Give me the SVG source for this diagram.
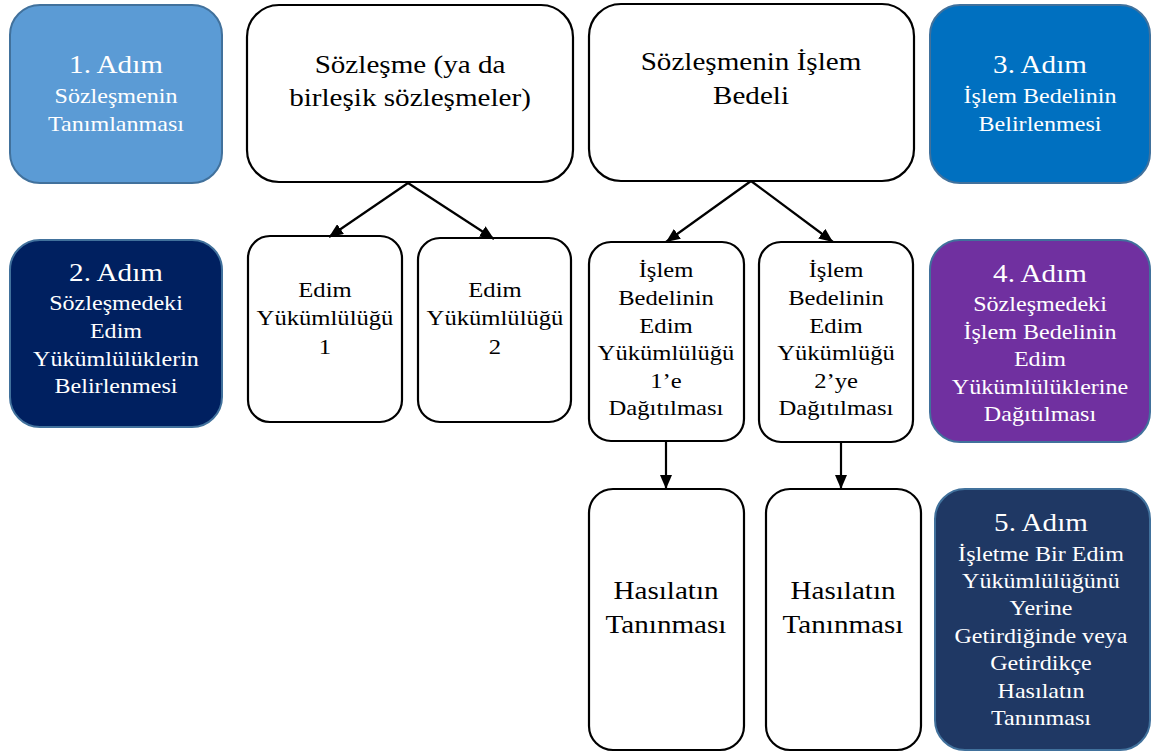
<svg xmlns="http://www.w3.org/2000/svg" width="1152" height="756" viewBox="0 0 1152 756">
<defs>
<marker id="ah" viewBox="0 0 14 12" refX="14" refY="6" markerWidth="14" markerHeight="12" markerUnits="userSpaceOnUse" orient="auto">
<path d="M0,0 L14,6 L0,12 z" fill="#000"/>
</marker>
</defs>
<style>
text{font-family:"Liberation Serif","Times New Roman",serif;text-anchor:middle;}
.w{fill:#fff;stroke:#000;stroke-width:2.2;}
.step{stroke:#41719c;stroke-width:2;}
.h{font-size:26px;fill:#fff;}
.s{font-size:21.5px;fill:#fff;}
.b{font-size:26px;fill:#000;}
.m{font-size:22px;fill:#000;}
.c{stroke:#000;stroke-width:2.2;fill:none;marker-end:url(#ah);}
</style>
<rect width="1152" height="756" fill="#fff"/>

<g id="step1">
<rect class="step" x="10" y="5" width="212" height="178" rx="30" fill="#5b9bd5"/>
<g transform="translate(116 0) scale(1.12 1)">
<text class="h" x="0" y="73">1. Adım</text>
<text class="s" x="0" y="103">Sözleşmenin</text>
<text class="s" x="0" y="131">Tanımlanması</text>
</g>
</g>

<g id="contract">
<rect class="w" x="247" y="5" width="326" height="177" rx="32"/>
<g transform="translate(410 0) scale(1.12 1)">
<text class="b" x="0" y="73">Sözleşme (ya da</text>
<text class="b" x="0" y="106">birleşik sözleşmeler)</text>
</g>
</g>

<g id="price">
<rect class="w" x="589" y="4" width="325" height="177" rx="32"/>
<g transform="translate(751 0) scale(1.12 1)">
<text class="b" x="0" y="70">Sözleşmenin İşlem</text>
<text class="b" x="0" y="104">Bedeli</text>
</g>
</g>

<g id="step3">
<rect class="step" x="930" y="5" width="220" height="178" rx="30" fill="#0070c0"/>
<g transform="translate(1040 0) scale(1.12 1)">
<text class="h" x="0" y="73">3. Adım</text>
<text class="s" x="0" y="103">İşlem Bedelinin</text>
<text class="s" x="0" y="131">Belirlenmesi</text>
</g>
</g>

<g id="step2">
<rect class="step" x="10" y="240" width="212" height="187" rx="30" fill="#002060"/>
<g transform="translate(116 0) scale(1.12 1)">
<text class="h" x="0" y="281">2. Adım</text>
<text class="s" x="0" y="310">Sözleşmedeki</text>
<text class="s" x="0" y="338">Edim</text>
<text class="s" x="0" y="366">Yükümlülüklerin</text>
<text class="s" x="0" y="393">Belirlenmesi</text>
</g>
</g>

<g id="po1">
<rect class="w" x="248" y="236" width="154" height="186" rx="22"/>
<g transform="translate(325 0) scale(1.12 1)">
<text class="m" x="0" y="297">Edim</text>
<text class="m" x="0" y="325">Yükümlülüğü</text>
<text class="m" x="0" y="354">1</text>
</g>
</g>

<g id="po2">
<rect class="w" x="418" y="238" width="153" height="184" rx="22"/>
<g transform="translate(495 0) scale(1.12 1)">
<text class="m" x="0" y="297">Edim</text>
<text class="m" x="0" y="325">Yükümlülüğü</text>
<text class="m" x="0" y="354">2</text>
</g>
</g>

<g id="alloc1">
<rect class="w" x="589" y="242" width="155" height="199" rx="22"/>
<g transform="translate(666 0) scale(1.12 1)">
<text class="m" x="0" y="277">İşlem</text>
<text class="m" x="0" y="305">Bedelinin</text>
<text class="m" x="0" y="333">Edim</text>
<text class="m" x="0" y="360">Yükümlülüğü</text>
<text class="m" x="0" y="388">1’e</text>
<text class="m" x="0" y="415">Dağıtılması</text>
</g>
</g>

<g id="alloc2">
<rect class="w" x="759" y="242" width="154" height="200" rx="22"/>
<g transform="translate(836 0) scale(1.12 1)">
<text class="m" x="0" y="277">İşlem</text>
<text class="m" x="0" y="305">Bedelinin</text>
<text class="m" x="0" y="333">Edim</text>
<text class="m" x="0" y="360">Yükümlüğü</text>
<text class="m" x="0" y="388">2’ye</text>
<text class="m" x="0" y="415">Dağıtılması</text>
</g>
</g>

<g id="step4">
<rect class="step" x="930" y="240" width="220" height="202" rx="30" fill="#7030a0"/>
<g transform="translate(1040 0) scale(1.12 1)">
<text class="h" x="0" y="282">4. Adım</text>
<text class="s" x="0" y="311">Sözleşmedeki</text>
<text class="s" x="0" y="339">İşlem Bedelinin</text>
<text class="s" x="0" y="366">Edim</text>
<text class="s" x="0" y="394">Yükümlülüklerine</text>
<text class="s" x="0" y="421">Dağıtılması</text>
</g>
</g>

<g id="rev1">
<rect class="w" x="589" y="489" width="155" height="261" rx="24"/>
<g transform="translate(666 0) scale(1.12 1)">
<text class="b" x="0" y="599">Hasılatın</text>
<text class="b" x="0" y="633">Tanınması</text>
</g>
</g>

<g id="rev2">
<rect class="w" x="766" y="489" width="155" height="261" rx="24"/>
<g transform="translate(843 0) scale(1.12 1)">
<text class="b" x="0" y="599">Hasılatın</text>
<text class="b" x="0" y="633">Tanınması</text>
</g>
</g>

<g id="step5">
<rect class="step" x="935" y="489" width="215" height="261" rx="30" fill="#1f3864"/>
<g transform="translate(1041 0) scale(1.12 1)">
<text class="h" x="0" y="531">5. Adım</text>
<text class="s" x="0" y="561">İşletme Bir Edim</text>
<text class="s" x="0" y="588">Yükümlülüğünü</text>
<text class="s" x="0" y="615">Yerine</text>
<text class="s" x="0" y="643">Getirdiğinde veya</text>
<text class="s" x="0" y="670">Getirdikçe</text>
<text class="s" x="0" y="698">Hasılatın</text>
<text class="s" x="0" y="725">Tanınması</text>
</g>
</g>

<g id="connectors">
<line class="c" x1="408" y1="183" x2="329" y2="237"/>
<line class="c" x1="408" y1="183" x2="494" y2="239"/>
<line class="c" x1="751" y1="181" x2="666" y2="242"/>
<line class="c" x1="751" y1="181" x2="833" y2="242"/>
<line class="c" x1="666" y1="441" x2="666" y2="489"/>
<line class="c" x1="841" y1="442" x2="841" y2="489"/>
</g>
</svg>
